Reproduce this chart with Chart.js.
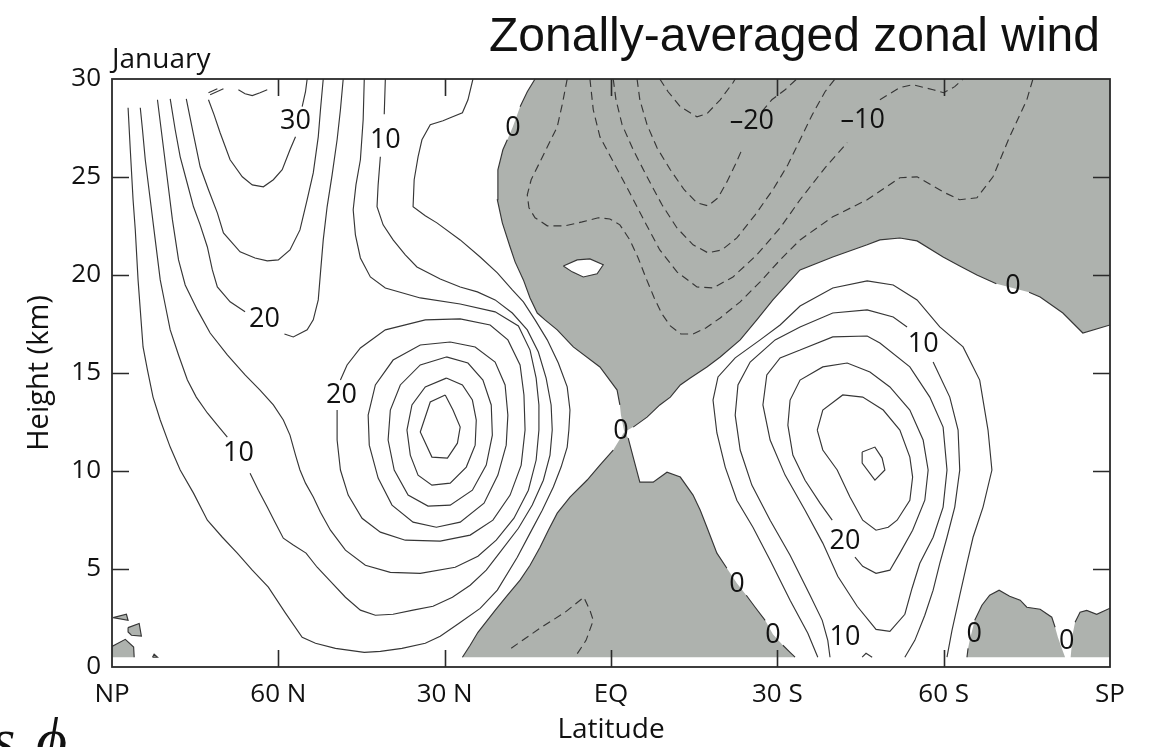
<!DOCTYPE html>
<html>
<head>
<meta charset="utf-8">
<title>Zonally-averaged zonal wind</title>
<script src="https://cdn.jsdelivr.net/npm/chart.js@4.4.1/dist/chart.umd.min.js"></script>
<style>
  html, body { margin: 0; padding: 0; background: #ffffff; }
  #wrap { position: relative; width: 1149px; height: 747px; }
  canvas { display: block; }
</style>
</head>
<body>
<div id="wrap"><canvas id="chart" width="1149" height="747"></canvas></div>
<script>
// ---------- axis ticks ----------
const latTicks = [90, 60, 30, 0, -30, -60, -90];
const latNames = ['NP', '60 N', '30 N', 'EQ', '30 S', '60 S', 'SP'];
const heightTicks = [0, 5, 10, 15, 20, 25, 30];

// ---------- contours: [latitude (deg, N positive), height (km)]; null = pen up ----------
// zero-wind line bounding the easterly region aloft (from SP wall round to the top edge)
const zeroUpper = [[-90,17.45],[-85.1,17.04],[-81.5,18.06],[-77.4,18.88],[-75.4,19.12],null,[-69.5,19.55],[-66.0,20.0],[-62.9,20.46],[-59.9,20.92],[-55.2,21.74],[-52.1,21.89],[-48.5,21.79],[-46.2,21.54],[-40.0,20.92],[-34.1,20.26],[-29.2,18.73],[-26.3,17.71],[-23.3,16.69],[-19.7,15.82],[-17.3,15.31],[-14.3,14.74],[-12.5,14.39],[-10.7,13.77],[-8.8,13.37],[-6.5,12.75],[-4.0,12.24],null,[-2.4,11.99],null,[-1.8,12.85],null,[-1.6,13.37],[-1.1,14.13],[2.0,15.31],[6.8,16.33],[9.7,17.20],[11.9,17.71],[13.3,18.06],[14.6,18.83],[15.8,19.75],[17.3,20.67],[18.2,21.43],[19.6,22.66],[20.5,23.84],[20.4,25.37],[19.5,26.39],[18.7,26.90],null,[17.7,27.56],null,[16.4,28.59],[15.1,29.35],[13.7,30.0]];
// zero-wind line bounding the low-level tropical easterlies
const zeroLowerRight = [[-2.4,11.99],null,[-3.1,11.68],[-4.0,10.71],[-5.2,9.43],[-7.6,9.43],[-10.1,9.94],[-12.5,9.69],[-14.8,8.77],[-16.1,8.00],[-17.3,7.13],[-19.1,5.81],[-20.9,5.04],null,[-22.7,4.27],null,[-24.4,3.66],[-26.0,3.05],[-27.8,2.38],null,[-29.2,1.67],null,[-31.0,1.11],[-32.3,0.75],[-33.2,0.5]];
const zeroLowerLeft = [[26.8,0.5],[25.4,1.11],[24.0,1.77],[20.9,2.89],[18.7,3.66],[16.4,4.43],[14.6,5.19],[12.8,6.11],[11.3,6.98],[9.7,7.85],[7.4,8.67],[4.3,9.54],[2.0,10.30],[-0.4,11.07],null,[-1.5,11.58],null,[-2.4,11.99]];
// westerly pocket inside the easterlies
const westIsland = [[8.6,20.46],[6.1,20.77],[3.8,20.82],[1.4,20.52],[2.5,20.06],[5.0,19.90],[7.0,20.16],[8.6,20.46]];
// surface easterly patches near the poles
const spPatchA = [[-64.2,0.5],[-64.4,0.95],null,[-64.7,1.36],null,[-65.6,2.38],[-66.9,3.15],[-68.3,3.66],[-70.0,3.92],[-71.9,3.61],[-73.8,3.41],[-75.0,3.05],[-77.4,2.95],[-79.5,2.54],[-80.1,2.03],null,[-80.6,1.52],null,[-81.3,0.96],null,[-81.9,0.5]];
const spPatchB = [[-82.9,0.5],null,[-83.1,1.11],null,[-83.3,1.72],null,[-83.7,2.28],[-84.6,2.79],[-85.8,2.89],[-87.6,2.69],[-90,3.00]];
const npPatchA = [[89.8,2.52],[87.4,2.69],[87.1,2.38],[89.8,2.52]];
const npPatchB = [[87.1,2.01],[85.1,2.22],[84.7,1.58],[86.5,1.62],[87.1,1.79],[87.1,2.01]];
const npPatchC = [[90,1.05],[87.6,1.41],[86.1,1.02],[86.0,0.5]];
const npPatchD = [[82.7,0.5],[82.4,0.65],[81.8,0.5],[82.7,0.5]];

// easterly contours (m/s)
const east5 = [[7.9,30],[8.8,28.69],[9.7,27.56],[11.3,26.64],[12.8,25.78],[14.4,24.86],[15.1,24.09],[14.8,23.43],[13.7,22.92],[11.5,22.51],[8.3,22.51],[5.2,22.71],[2.3,22.92],[0.2,22.86],[-1.6,22.56],[-3.4,21.79],[-4.9,20.87],[-6.3,19.85],[-7.8,18.83],[-9.2,18.01],[-10.7,17.40],[-12.6,16.99],[-14.8,16.99],[-17.1,17.30],[-19.7,17.81],[-23.3,18.63],[-26.9,19.65],[-30.5,20.77],[-34.1,21.79],[-40.0,22.97],[-46.2,23.84],[-52.1,24.96],[-55.2,25.01],[-59.9,24.24],[-62.9,23.84],[-66.0,23.94],[-68.9,25.01],[-71.9,27.05],[-75.0,28.94],[-76.1,30]];
const east10 = [[3.8,30],[3.2,28.43],[2.0,27.05],[-0.4,25.78],[-3.1,24.35],[-6.1,22.71],[-8.8,21.28],[-11.9,20.16],[-15.5,19.39],[-18.4,19.34],[-22.0,19.90],[-26.3,21.03],[-30.5,22.40],[-34.1,23.84],[-38.6,25.47],[-42.6,26.75],null,[-48.5,28.94],[-52.1,29.56],[-54.4,29.71],[-58.1,29.45],[-60.0,29.30],[-62.0,29.61],[-63.5,30]];
const east15 = [[-0.4,30],[-0.9,28.94],[-2.0,27.67],[-4.0,26.39],[-6.5,25.01],[-9.2,23.58],[-11.9,22.40],[-14.8,21.54],[-17.5,21.13],[-20.0,21.28],[-22.7,21.89],[-26.0,23.07],[-29.2,24.35],[-31.9,25.62],[-34.1,26.90],[-36.3,28.18],[-38.6,29.35],[-40.4,30]];
const east20 = [[-4.7,30],[-5.2,28.94],[-6.5,27.67],[-8.3,26.49],[-10.7,25.37],[-13.2,24.35],[-15.5,23.68],[-17.5,23.53],[-19.3,23.94],[-20.9,24.75],[-22.4,25.62],[-23.6,26.39],null,[-27.2,28.33],[-29.0,28.94],[-31.4,29.45],[-33.5,30]];
const east25 = [[-8.8,30],[-10.3,29.35],[-12.5,28.59],[-15.5,28.07],[-17.3,28.23],[-19.7,28.94],[-22.0,29.81],[-22.4,30]];
const eastLow5 = [[18.0,0.96],[12.8,1.98],[8.3,2.79],[4.9,3.56],[3.8,2.89],[3.2,2.38],[4.5,1.36],[6.5,0.5]];

// northern hemisphere westerlies
const north5 = [[24.9,30],[25.8,28.94],[26.8,28.28],[29.0,28.02],[30.3,27.87],[32.6,27.67],[34.1,26.90],[34.8,26.03],[35.5,24.86],[35.7,23.48],[33.5,23.02],[31.4,22.66],[27.2,21.79],[23.6,20.92],[20.5,20.11],[17.8,19.24],[15.8,18.63],[13.7,17.71],[11.5,16.69],[9.5,15.51],[7.9,14.29],[7.4,13.11],[7.6,12.09],[7.9,11.22],[9.0,10.20],[10.4,9.18],[12.4,8.00],[14.6,6.83],[16.9,5.60],[20.5,3.92],[23.6,2.99],[27.4,2.23],[30.8,1.57],[33.5,1.21],[37.7,0.95],[41.6,0.80],[44.5,0.75],[49.7,0.95],[53.3,1.21],[55.7,1.52],[58.8,2.79],[61.8,4.07],[64.7,4.94],[67.4,5.81],[70.1,6.62],[72.8,7.49],[75.3,8.87],[77.7,10.05],[79.5,11.22],[81.3,12.60],[82.6,13.77],[83.6,15.15],[84.4,16.33],[84.9,18.22],[85.3,19.75],[85.8,22.30],[86.2,23.84],[86.7,26.39],[87.1,28.53]];
const north10 = [[40.7,30],[40.9,28.2],null,[41.6,26.03],[42.0,24.60],[42.2,23.48],[41.1,22.56],[39.3,21.79],[37.1,21.03],[35.0,20.41],[30.8,19.80],[27.2,19.39],[24.1,19.14],[20.9,18.73],[17.8,18.06],[15.1,17.20],[13.1,16.07],[11.7,14.74],[10.8,13.37],[10.6,12.09],[11.0,10.81],[12.2,9.53],[14.2,8.26],[16.7,7.08],[20.0,5.86],[22.5,4.94],[25.4,4.17],[28.6,3.56],[32.1,3.10],[35.7,2.90],[39.3,2.69],[42.5,2.64],[45.2,2.90],[47.9,3.56],[50.8,4.43],[53.0,5.09],[55.0,5.81],[57.3,6.22],[59.1,6.57],[60.6,7.39],[62.0,8.16],[63.6,9.02],[65.1,9.89],null,[69.2,11.73],[71.0,12.34],[72.8,12.96],[74.8,13.77],[76.4,14.64],[78.0,15.92],[79.5,17.20],[80.4,18.47],[81.3,19.75],[82.2,21.79],[83.1,23.84],[84.0,25.88],[84.5,27.41],[84.9,28.53]];
const north15 = [[44.5,30],[44.7,27.92],[45.2,25.88],[46.0,24.60],[46.5,23.33],[46.1,22.05],[45.2,20.87],[43.4,19.90],[40.7,19.34],[34.4,18.83],[27.2,18.52],[20.9,18.12],[16.7,17.40],[14.6,16.17],[13.5,14.74],[13.0,13.37],[13.0,12.09],[13.5,10.56],[14.9,9.02],[17.5,7.59],[20.7,6.47],[24.0,5.65],[28.1,5.09],[34.4,4.78],[39.8,4.83],[44.3,5.19],[47.9,5.96],[50.6,6.98],[52.4,7.90],[53.7,8.67],[55.1,9.38],[56.1,10.05],[56.9,10.81],[57.9,11.83],[59.1,12.60],[60.9,13.37],[63.3,14.13],[66.0,14.90],[69.2,15.92],[72.3,17.04],[74.6,18.22],[76.8,19.49],[78.0,20.77],[79.1,22.81],[80.0,24.86],[80.9,26.90],[81.8,28.94]];
const polar20 = [[48.3,30],[48.8,28.43],[49.4,26.90],[50.3,25.11],[51.2,23.48],[51.9,21.79],[52.4,20.11],[52.8,18.73],[53.7,17.71],[54.8,17.20],[57.3,16.84],[58.9,16.99],null,[66.0,18.12],[68.7,18.63],[71.0,19.39],[71.9,20.26],[72.8,21.43],[74.1,22.56],[75.3,23.48],[76.6,24.86],[77.7,26.03],[78.6,27.41],[79.5,28.99]];
const polar25 = [[51.9,30],[52.4,28.43],[52.8,27.05],[53.7,25.21],[54.8,23.84],[56.1,22.30],[57.9,21.28],[60.0,20.77],[62.0,20.72],[64.2,20.87],[66.9,21.18],[69.9,22.15],[71.0,23.17],[72.6,24.35],[74.1,25.52],[75.3,27.16],[76.6,28.99]];
const polar30 = [[54.8,30],[55.1,29.35],[55.7,28.59],null,[56.9,27.05],[57.9,26.39],[59.3,25.37],[60.9,24.86],[62.7,24.50],[64.7,24.60],[66.5,25.01],[68.7,25.88],[70.5,27.26],[71.6,28.18],[72.6,28.94]];
const polar35 = [[67.2,29.45],[66.0,29.25],[64.7,29.15],[63.3,29.30],[62.0,29.45]];
const polarBitA = [[72.6,29.30],[71.0,29.50]];
const polarBitB = [[72.3,29.20],[69.9,29.50]];
const jetN20 = [[48.8,14.64],[47.6,15.41],[45.2,16.28],[40.7,17.20],[33.5,17.71],[27.2,17.76],[21.8,17.45],[18.6,16.69],[16.4,15.41],[15.7,13.88],[15.5,12.09],[16.2,10.30],[18.2,8.77],[21.3,7.49],[25.4,6.73],[30.8,6.42],[37.1,6.47],[41.6,6.88],[44.9,7.59],[47.4,8.77],[48.8,10.05],[49.4,11.58],[49.4,13.11]];
const jetN25 = [[29.0,16.58],[24.5,16.33],[20.9,15.56],[19.1,14.39],[18.6,12.85],[18.9,11.32],[20.4,9.79],[22.9,8.36],[27.2,7.39],[31.5,7.13],[35.7,7.39],[39.5,8.26],[42.0,9.64],[43.6,11.32],[43.8,12.85],[42.5,14.39],[39.3,15.66],[34.4,16.43],[29.0,16.58]];
const jetN30 = [[29.7,15.82],[25.8,15.51],[23.1,14.64],[21.6,13.37],[21.4,11.83],[22.5,10.30],[25.0,9.02],[29.0,8.26],[33.0,8.21],[36.6,8.77],[39.1,10.05],[40.2,11.58],[39.8,13.11],[38.0,14.39],[34.4,15.41],[29.7,15.82]];
const jetN35 = [[29.7,14.74],[26.8,14.39],[25.0,13.62],[24.3,12.60],[24.5,11.32],[26.1,10.20],[29.0,9.38],[32.3,9.28],[34.8,9.79],[36.2,10.81],[36.8,12.09],[35.9,13.37],[33.5,14.29],[29.7,14.74]];
const jetN40 = [[29.9,13.88],[28.5,13.11],[27.2,12.24],[27.7,11.42],[29.5,10.66],[32.3,10.71],[34.4,11.99],[32.6,13.52],[29.9,13.88]];

// southern hemisphere westerlies
const south5 = [[-37.3,0.5],[-35.5,1.72],[-32.3,3.41],[-28.7,5.45],[-25.6,7.13],[-22.7,8.51],[-20.6,10.20],[-19.1,11.94],[-18.4,13.62],[-19.3,14.80],[-22.4,15.77],[-26.9,16.69],[-30.5,17.45],[-34.1,18.42],[-40.0,19.34],[-46.2,19.70],[-50.9,19.49],[-55.2,18.73],[-59.3,17.35],[-63.5,16.33],[-66.5,14.64],[-68.0,12.09],[-68.7,10.05],[-67.1,8.16],[-65.3,6.62],[-64.2,5.29],[-62.9,3.66],[-61.5,1.87],[-60.6,0.5]];
const south10 = [[-39.5,0.5],[-39.1,1.36],[-38.1,2.38],[-35.9,3.66],[-32.3,5.70],[-28.7,7.49],[-25.4,9.28],[-23.3,11.07],[-22.4,12.85],[-22.9,14.39],[-25.1,15.56],[-29.6,16.69],[-34.1,17.35],[-40.0,18.06],[-46.2,18.22],[-50.9,17.86],[-53.4,17.35],null,[-58.1,15.56],[-61.1,13.77],[-62.6,12.09],[-62.9,10.05],[-62.0,8.16],[-60.6,6.62],[-59.3,5.29],[-58.1,3.92],[-56.6,2.64],[-54.8,1.36],[-53.0,0.5]];
const south10Bit = [[-45.3,0.5],[-46.0,0.7],[-47.1,0.5]];
const south15 = [[-34.1,16.17],[-40.0,16.84],[-46.2,16.89],[-48.5,16.53],[-53.9,15.31],[-57.5,13.77],[-59.9,12.24],[-60.6,10.05],[-59.9,8.16],[-58.1,6.62],[-55.7,5.29],[-54.3,4.02],[-53.0,2.69],[-50.3,1.82],[-47.8,1.92],[-44.4,3.10],[-40.9,4.63],[-38.2,6.32],[-35.0,8.00],[-31.4,9.79],[-28.7,11.58],[-27.4,13.37],[-28.1,14.90],[-30.5,15.77],[-34.1,16.17]];
const south20 = [[-44.0,5.60],[-45.4,5.14],[-47.8,4.78],[-50.3,4.94],[-52.1,5.81],[-54.4,6.98],[-56.6,8.51],[-57.2,10.05],[-56.3,11.58],[-53.9,13.11],[-50.3,14.29],[-46.7,15.05],[-42.6,15.51],[-38.2,15.31],[-34.1,14.64],[-32.3,13.62],[-31.9,12.34],[-32.8,10.81],[-35.0,9.53],[-37.7,8.36],[-39.9,7.49]];
const south25 = [[-37.2,12.09],[-38.2,13.11],[-41.8,13.88],[-45.4,13.77],[-49.1,13.11],[-52.1,12.09],[-53.9,10.71],[-54.4,9.69],[-53.9,8.51],[-51.6,7.49],[-50.0,7.13],[-47.8,6.98],[-45.4,7.49],[-43.1,8.67],[-40.8,10.05],[-38.2,11.07],[-37.2,12.09]];
const south30 = [[-45.3,10.97],[-47.6,11.22],[-48.9,10.66],[-49.4,10.05],[-47.6,9.53],[-45.3,10.40],[-45.3,10.97]];

// contour labels: [latitude, height, text]
const contourLabels = [
  [56.9, 27.87, '30'], [40.7, 26.90, '10'], [17.7, 27.56, '0'],
  [-25.4, 27.87, '\u201320'], [-45.4, 27.92, '\u201310'],
  [62.5, 17.81, '20'], [48.6, 13.93, '20'], [67.2, 10.97, '10'],
  [-1.8, 12.09, '0'], [-72.5, 19.49, '0'], [-56.3, 16.53, '10'],
  [-42.2, 6.47, '20'], [-22.7, 4.27, '0'], [-29.2, 1.67, '0'],
  [-42.2, 1.57, '10'], [-65.5, 1.72, '0'], [-82.2, 1.36, '0']
];

// ---------- styling ----------
const INK = '#363636';
const TEXT = '#111111';
const SHADE = '#aeb2ae';
const FONT = "'Open Sans', 'DejaVu Sans', sans-serif";

const xy = arr => arr.map(p => p ? { x: p[0], y: p[1] } : { x: null, y: null });
const solid = arr => ({ data: xy(arr), borderColor: INK, borderWidth: 1.15, pointRadius: 0, fill: false, tension: 0, spanGaps: false, order: 0 });
const dashed = arr => Object.assign(solid(arr), { borderDash: [8, 5] });
const shaded = (arr, color, order) => ({ data: xy(arr.filter(Boolean)), backgroundColor: color, borderColor: 'rgba(0,0,0,0)', borderWidth: 0, pointRadius: 0, fill: 'shape', tension: 0, order });

const datasets = [
  // shaded easterlies
  shaded(zeroUpper.concat([[-90, 30]]), SHADE, 3),
  shaded(zeroLowerRight.concat(zeroLowerLeft), SHADE, 3),
  shaded(spPatchA, SHADE, 3),
  shaded(spPatchB.concat([[-90, 0.5]]), SHADE, 3),
  shaded(npPatchA, SHADE, 3),
  shaded(npPatchB, SHADE, 3),
  shaded(npPatchC.concat([[90, 0.5]]), SHADE, 3),
  shaded(npPatchD, SHADE, 3),
  shaded(westIsland, '#ffffff', 2),
  // zero lines
  solid(zeroUpper), solid(zeroLowerRight), solid(zeroLowerLeft), solid(westIsland),
  solid(spPatchA), solid(spPatchB), solid(npPatchA), solid(npPatchB), solid(npPatchC), solid(npPatchD),
  // easterlies (dashed)
  dashed(east5), dashed(east10), dashed(east15), dashed(east20), dashed(east25), dashed(eastLow5),
  // westerlies
  solid(north5), solid(north10), solid(north15), solid(polar20), solid(polar25), solid(polar30),
  solid(polar35), solid(polarBitA), solid(polarBitB),
  solid(jetN20), solid(jetN25), solid(jetN30), solid(jetN35), solid(jetN40),
  solid(south5), solid(south10), solid(south10Bit), solid(south15), solid(south20), solid(south25), solid(south30)
];

// frame with inward ticks, contour labels and page text
const decorations = {
  id: 'decorations',
  afterDatasetsDraw(chart) {
    const { ctx, chartArea: a, scales: { x, y } } = chart;
    ctx.save();
    ctx.strokeStyle = '#2a2a2a';
    ctx.lineWidth = 1.8;
    ctx.strokeRect(a.left, a.top, a.right - a.left, a.bottom - a.top);
    ctx.lineWidth = 1.6;
    const len = 17;
    ctx.beginPath();
    latTicks.slice(1, -1).forEach(v => {
      const px = Math.round(x.getPixelForValue(v)) + 0.5;
      ctx.moveTo(px, a.bottom); ctx.lineTo(px, a.bottom - len);
      ctx.moveTo(px, a.top); ctx.lineTo(px, a.top + len);
    });
    heightTicks.slice(1, -1).forEach(v => {
      const py = Math.round(y.getPixelForValue(v)) + 0.5;
      ctx.moveTo(a.left, py); ctx.lineTo(a.left + len, py);
      ctx.moveTo(a.right, py); ctx.lineTo(a.right - len, py);
    });
    ctx.stroke();

    ctx.fillStyle = TEXT;
    ctx.font = '27px ' + FONT;
    ctx.textAlign = 'center';
    ctx.textBaseline = 'middle';
    contourLabels.forEach(([lat, h, t]) => {
      ctx.fillText(t, x.getPixelForValue(lat), y.getPixelForValue(h) + 1);
    });
    ctx.restore();
  },
  afterDraw(chart) {
    const { ctx, chartArea: a } = chart;
    ctx.save();
    ctx.fillStyle = TEXT;
    ctx.textBaseline = 'alphabetic';
    ctx.textAlign = 'right';
    ctx.font = "48px 'Liberation Sans', Arial, sans-serif";
    ctx.fillText('Zonally-averaged zonal wind', 1100, 51);
    ctx.textAlign = 'left';
    ctx.font = '28px ' + FONT;
    ctx.fillText('January', a.left, 68);
    ctx.font = "italic 60px 'Liberation Serif', 'DejaVu Serif', serif";
    ctx.fillText('s', -8, 759);
    ctx.fillText('\u03D5', 36, 759);
    ctx.restore();
  }
};

new Chart(document.getElementById('chart'), {
  type: 'line',
  data: { datasets },
  options: {
    responsive: false,
    animation: false,
    devicePixelRatio: 1,
    events: [],
    layout: { padding: { top: 79, right: 39, bottom: 0, left: 0 } },
    plugins: { legend: { display: false }, tooltip: { enabled: false } },
    scales: {
      x: {
        type: 'linear', min: -90, max: 90, reverse: true,
        afterFit(s) { s.height = 80; },
        afterBuildTicks(s) { s.ticks = latTicks.map(v => ({ value: v })); },
        grid: { display: false, drawTicks: false }, border: { display: false },
        ticks: {
          autoSkip: false, maxRotation: 0, padding: 12, color: TEXT,
          font: { family: FONT, size: 26 },
          callback: v => latNames[latTicks.indexOf(v)]
        },
        title: { display: true, text: 'Latitude', color: TEXT, font: { family: FONT, size: 28 }, padding: { top: 0, bottom: 0 } }
      },
      y: {
        type: 'linear', min: 0, max: 30,
        afterFit(s) { s.width = 112; },
        afterBuildTicks(s) { s.ticks = heightTicks.map(v => ({ value: v })); },
        grid: { display: false, drawTicks: false }, border: { display: false },
        ticks: { padding: 11, color: TEXT, font: { family: FONT, size: 26 } },
        title: { display: true, text: 'Height (km)', color: TEXT, font: { family: FONT, size: 29 }, padding: { top: 22, bottom: 0 } }
      }
    }
  },
  plugins: [decorations]
});
</script>
</body>
</html>
